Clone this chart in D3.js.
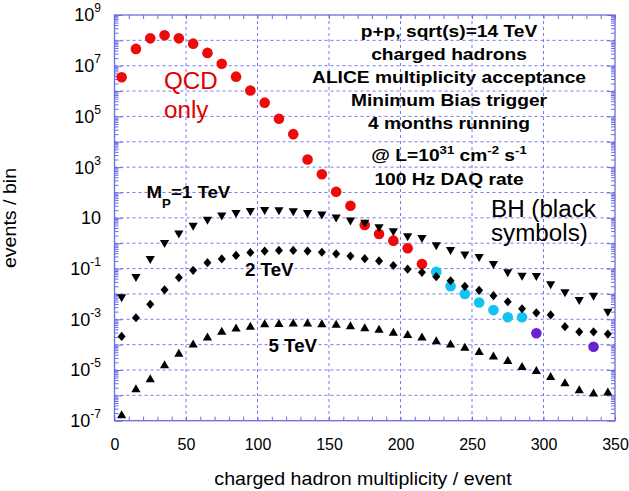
<!DOCTYPE html>
<html><head><meta charset="utf-8">
<script src="https://cdn.jsdelivr.net/npm/d3@7"></script>
<style>body{margin:0;background:#fff}svg{display:block}</style>
</head><body>
<svg id="c" width="629" height="491"></svg>
<script>
// ---- data ----
const multiplicity = [5,15,25,35,45,55,65,75,85,95,105,115,125,135,145,155,165,175,185,195,205,215,225,235,245,255,265,275,285,295,305,315,325,335,345];
const qcdX = [5,15,25,35,45,55,65,75,85,95,105,115,125,135,145,155,165,175,185,195,205,215];
const qcdY = [3.5e6,4.6e7,1.2e8,1.6e8,1.2e8,7.4e7,3.2e7,1.2e7,3.7e6,1.05e6,3.5e5,8.1e4,2.0e4,2.0e3,525,107,30,5.2,2.3,1.26,0.63,0.15];
const cyanX = [225,235,245,255,265,275,285];
const cyanY = [0.074,0.020,0.010,0.0046,0.0023,0.0012,0.0012];
const purpleX = [295,335];
const purpleY = [2.8e-4,8.3e-5];
const bh1TeV = [0.0068,0.042,0.22,0.93,2.2,4.5,7.6,11.2,14.1,17,18.6,18.2,16.6,14.1,12.3,9.5,7.1,5.8,3.9,2.7,1.7,1.48,0.76,0.49,0.33,0.26,0.138,0.065,0.048,0.046,0.022,0.0107,0.0052,0.0078,0.0018];
const bh2TeV = [2.1e-4,1.15e-3,3.9e-3,0.0145,0.044,0.085,0.17,0.24,0.33,0.43,0.49,0.52,0.52,0.49,0.44,0.38,0.31,0.245,0.20,0.132,0.095,0.071,0.048,0.033,0.020,0.0138,0.0085,0.0049,0.0026,0.0018,0.00148,5.1e-4,3.2e-4,3.2e-4,2.6e-4];
const bh5TeV = [1.8e-7,1.9e-6,4.7e-6,1.7e-5,4.8e-5,1.12e-4,2.1e-4,3.5e-4,4.7e-4,5.6e-4,6.9e-4,7.1e-4,7.4e-4,7.4e-4,6.9e-4,6.6e-4,5.8e-4,4.8e-4,4.2e-4,3.2e-4,2.6e-4,2.1e-4,1.5e-4,1.12e-4,8.3e-5,5.6e-5,3.7e-5,2.5e-5,1.45e-5,1.0e-5,5.8e-6,3.3e-6,1.74e-6,1.29e-6,1.41e-6];
const xTickLabels = [0,50,100,150,200,250,300,350];
const yLabelExps = [9,7,5,3,1,-1,-3,-5,-7];
const infoLines = ["p+p, sqrt(s)=14 TeV","charged hadrons","ALICE multiplicity acceptance","Minimum Bias trigger","4 months running"];

// ---- layout ----
const L=114.5, R=615, T=15, B=420.7;
const FONT = "'Liberation Sans', Arial, Helvetica, sans-serif";
const frameCol = "#6b6be6";
const svg = d3.select("#c").style("font-family", FONT);
const x = d3.scaleLinear().domain([0,350]).range([L,R]);
const y = d3.scaleLog().domain([1e-7,1e9]).range([B,T]);

// grid
const g = svg.append("g");
const decades = d3.range(-6,9).map(e=>Math.pow(10,e));
g.selectAll(".hg").data(decades).join("line")
  .attr("x1",L).attr("x2",R).attr("y1",d=>y(d)).attr("y2",d=>y(d))
  .attr("stroke","#7777ee").attr("stroke-width",1).attr("stroke-dasharray","3,3");
g.selectAll(".vg").data([50,100,150,200,250,300]).join("line")
  .attr("y1",T).attr("y2",B).attr("x1",d=>x(d)).attr("x2",d=>x(d))
  .attr("stroke","#7777ee").attr("stroke-width",1).attr("stroke-dasharray","3,3");

// axes ticks
const minorX = d3.range(0,351,10);
const majorDec = d3.range(-7,10).map(e=>Math.pow(10,e));
const minorY = [];
for (let e=-7;e<9;e++) for (let k=2;k<10;k++) minorY.push(k*Math.pow(10,e));
function styleAxis(sel){ sel.select(".domain").remove(); sel.selectAll("line").attr("stroke",frameCol); sel.selectAll("text").remove(); }
svg.append("g").attr("transform",`translate(0,${B})`).call(d3.axisBottom(x).tickValues(minorX).tickSize(-4).tickSizeOuter(0)).call(styleAxis);
svg.append("g").attr("transform",`translate(0,${T})`).call(d3.axisTop(x).tickValues(minorX).tickSize(-4).tickSizeOuter(0)).call(styleAxis);
svg.append("g").attr("transform",`translate(${L},0)`).call(d3.axisLeft(y).tickValues(minorY).tickSize(-4).tickSizeOuter(0)).call(styleAxis);
svg.append("g").attr("transform",`translate(${L},0)`).call(d3.axisLeft(y).tickValues(majorDec).tickSize(-8).tickSizeOuter(0)).call(styleAxis);
svg.append("g").attr("transform",`translate(${R},0)`).call(d3.axisRight(y).tickValues(minorY).tickSize(-4).tickSizeOuter(0)).call(styleAxis);
svg.append("g").attr("transform",`translate(${R},0)`).call(d3.axisRight(y).tickValues(majorDec).tickSize(-8).tickSizeOuter(0)).call(styleAxis);

// x labels via axis
const xa = svg.append("g").attr("transform",`translate(0,${B})`)
  .call(d3.axisBottom(x).tickValues(xTickLabels).tickSize(0).tickPadding(18).tickSizeOuter(0));
xa.select(".domain").remove();
xa.selectAll("text").attr("font-size","16px").attr("font-family",FONT).attr("fill","#000");

// frame
svg.append("rect").attr("x",L).attr("y",T).attr("width",R-L).attr("height",B-T)
  .attr("fill","none").attr("stroke",frameCol).attr("stroke-width",1.3);

// y labels
yLabelExps.forEach(e=>{
  const t = svg.append("text").attr("x",101).attr("y",y(Math.pow(10,e))).attr("dy","0.36em")
    .attr("text-anchor","end").attr("font-size","18px").attr("fill","#000");
  t.append("tspan").text("10");
  if (e!==1) t.append("tspan").attr("font-size","12px").attr("dy","-0.75em").text(String(e).replace("-","-"));
});

// markers
const pts = (xs,ys)=>xs.map((d,i)=>({x:d,y:ys[i]}));
function circles(data,col){
  svg.append("g").selectAll("circle").data(data).join("circle")
    .attr("cx",d=>x(d.x)).attr("cy",d=>y(d.y)).attr("r",5.3).attr("fill",col);
}
circles(pts(qcdX,qcdY),"#ee0a0a");
circles(pts(cyanX,cyanY),"#12c2f2");
circles(pts(purpleX,purpleY),"#6a22d0");

function shape(data,pathFn){
  svg.append("g").selectAll("path").data(data).join("path")
    .attr("transform",d=>`translate(${x(d.x)},${y(d.y)})`).attr("d",pathFn).attr("fill","#000");
}
shape(pts(multiplicity,bh1TeV),()=>"M-4.6,-4L4.6,-4L0,4Z");
shape(pts(multiplicity,bh2TeV),()=>"M0,-4.6L4,0L0,4.6L-4,0Z");
shape(pts(multiplicity,bh5TeV),()=>"M-4.6,4L4.6,4L0,-4Z");

// stretched text helper
function stext(px,py,size,weight,anchor,sx,col,rot){
  const gg = svg.append("g").attr("transform",`translate(${px},${py})${rot?` rotate(${rot})`:""} scale(${sx},1)`);
  return gg.append("text").attr("font-size",size+"px").attr("font-weight",weight)
    .attr("text-anchor",anchor).attr("fill",col||"#000");
}

// info block
const infoBase = [37,59.5,82.5,105.5,128.5];
infoLines.forEach((s,i)=>stext(449,infoBase[i],16,"bold","middle",1.2).text(s));
{
  const t = stext(449,160.5,16,"bold","middle",1.2);
  t.append("tspan").text("@ L=10");
  t.append("tspan").attr("font-size","11px").attr("dy","-7").text("31");
  t.append("tspan").attr("dy","7").text(" cm");
  t.append("tspan").attr("font-size","11px").attr("dy","-7").text("-2");
  t.append("tspan").attr("dy","7").text(" s");
  t.append("tspan").attr("font-size","11px").attr("dy","-7").text("-1");
}
stext(449,185,16,"bold","middle",1.2).text("100 Hz DAQ rate");

// QCD only
stext(164,89,23.5,"normal","start",1.03,"#e00000").text("QCD");
stext(164,118,23.5,"normal","start",1.03,"#e00000").text("only");
// BH
stext(491,216.5,23.5,"normal","start",1.03).text("BH (black");
stext(491,240.5,23.5,"normal","start",1.03).text("symbols)");

// mass labels
{
  const t = stext(146.5,197.5,17,"bold","start",1.1);
  t.append("tspan").text("M");
  t.append("tspan").attr("font-size","12px").attr("dy","10").text("P");
  t.append("tspan").attr("dy","-10").text("=1 TeV");
}
stext(245,276,17.5,"bold","start",1.07).text("2 TeV");
stext(268.5,351.5,17.5,"bold","start",1.07).text("5 TeV");

// axis titles
stext(363,485,18.5,"normal","middle",1.06).text("charged hadron multiplicity / event");
stext(16,218,17.5,"normal","middle",1.12,"#000",-90).text("events / bin");
</script>
</body></html>
